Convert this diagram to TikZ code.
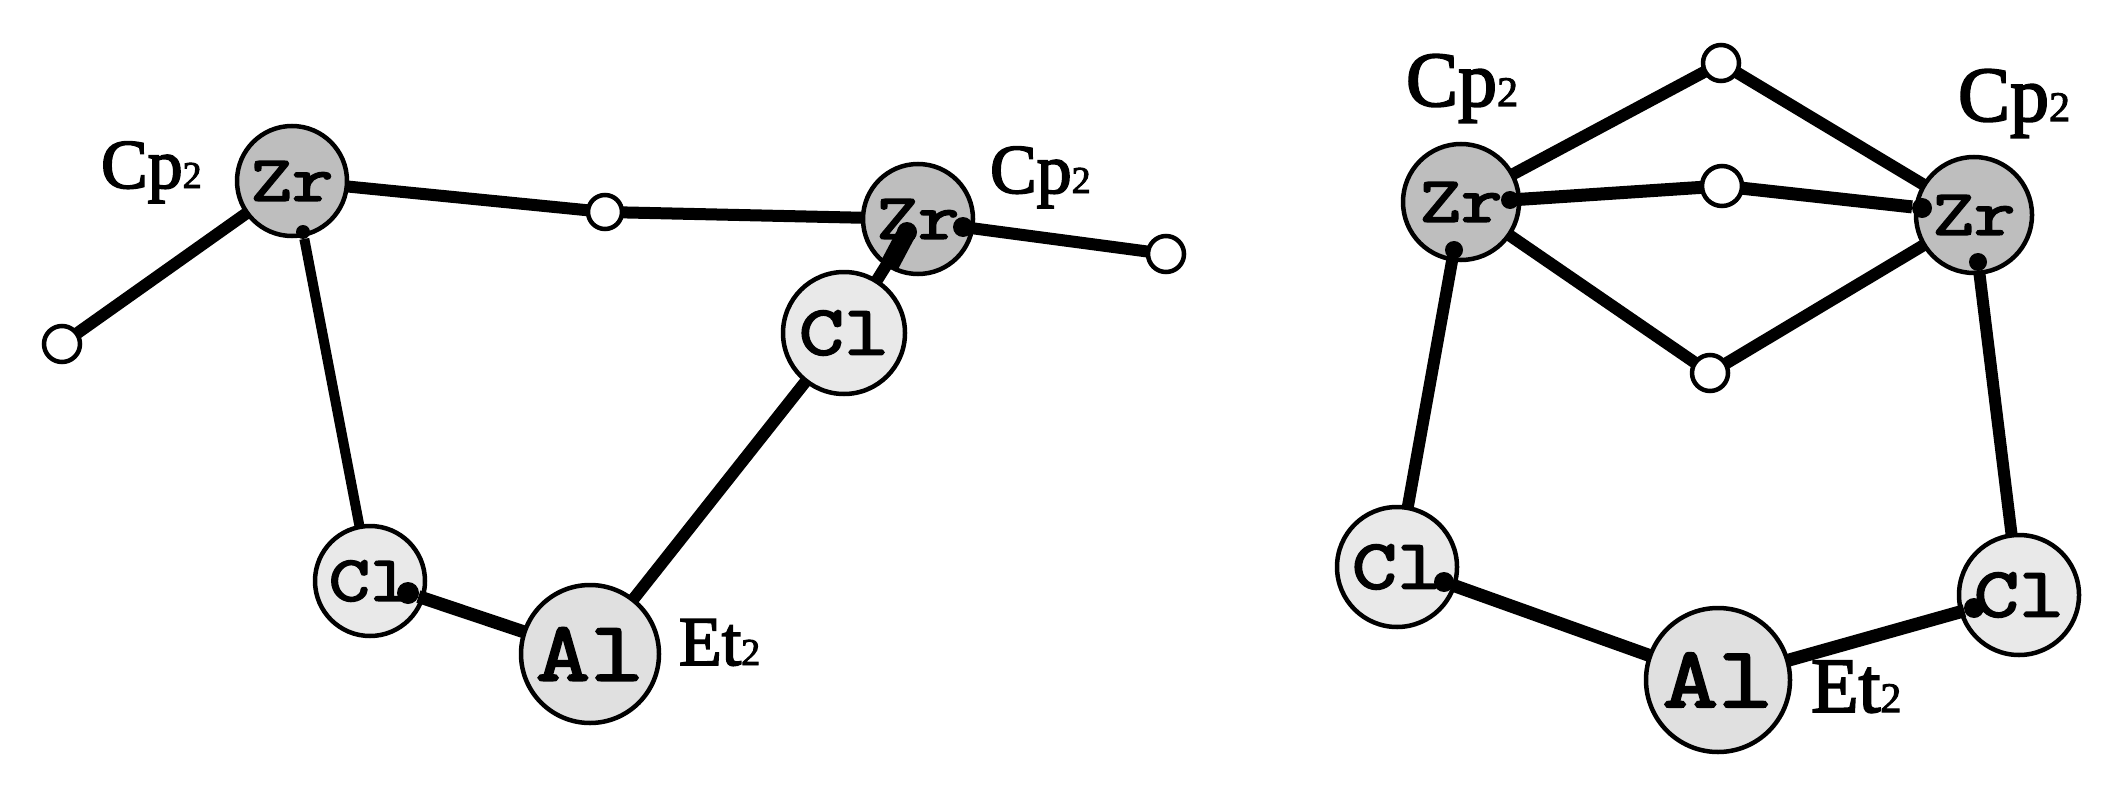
\documentclass[tikz,border=0pt]{standalone}
\usepackage{fontspec}
\setmainfont{Liberation Serif}
\newfontfamily\atomfont[FakeBold=3,FakeStretch=1.25]{Latin Modern Mono}
\newfontfamily\labfont[FakeBold=2.5]{Liberation Serif}
\newcommand{\fs}[1]{\fontsize{#1}{#1}\selectfont}
\newcommand{\lab}[2]{\labfont\fs{70}#1\fs{38}#2}
\newcommand{\labb}[2]{\labfont\fs{78}#1\fs{42}#2}
\tikzset{
  atom/.style={circle,draw=black,line width=4.5pt,inner sep=0pt,outer sep=0pt,font=\atomfont},
  zr/.style={atom,fill=zrgray,minimum size=#1},
  cl/.style={atom,fill=clgray,minimum size=#1},
  al/.style={atom,fill=algray,minimum size=#1},
  site/.style={circle,draw=black,fill=white,line width=4.5pt,inner sep=0pt,outer sep=0pt,minimum size=#1},
  dot/.style={circle,fill=black,inner sep=0pt,outer sep=0pt,minimum size=#1},
  bond/.style={draw=black,line width=#1},
  bond/.default=12pt,
  txt/.style={anchor=base west,inner sep=0pt,outer sep=0pt}
}
\definecolor{zrgray}{HTML}{BEBEBE}
\definecolor{clgray}{HTML}{E9E9E9}
\definecolor{algray}{HTML}{E0E0E0}
\begin{document}
\begin{tikzpicture}[x=1pt,y=-1pt]
\useasboundingbox (0,0) rectangle (2128,797);
% left structure
\node[zr=110pt] (zrA) at (292,181) {\fs{64}Zr};
\node[zr=110pt] (zrB) at (918,219) {\fs{64}Zr};
\node[cl=122pt] (clB) at (844,333) {\fs{70}Cl};
\node[cl=110pt] (clA) at (370,581) {\fs{64}Cl};
\node[al=138pt] (alA) at (590,654) {\fs{84}Al};
\node[site=36pt] (s1) at (62,344) {};
\node[site=34pt] (s2) at (605,212) {};
\node[site=36pt] (s3) at (1166,254) {};
\node[dot=14pt] (dA) at (303,232) {};
\node[dot=20pt] (dB) at (963,227) {};
\node[dot=20pt] (dC) at (907,232) {};
\node[dot=22pt] (dD) at (408,593) {};
\coordinate (wedge) at (889,266);
\draw[bond] (s1) -- (zrA);
\draw[bond] (zrA) -- (s2);
\draw[bond] (s2) -- (zrB);
\draw[bond] (dB) -- (s3);
\draw[bond=10pt] (dA) -- (clA);
\draw[bond=13pt] (dD) -- (alA);
\draw[bond] (clB) -- (alA);
\draw[bond] (dC) -- (clB);
\draw[bond=19pt] (dC.center) -- (wedge);
\node[txt] (lA) at (101,188) {\lab{Cp}{2}};
\node[txt] (lB) at (990,193) {\lab{Cp}{2}};
\node[txt] (lC) at (679,665) {\lab{Et}{2}};
% right structure
\node[zr=116pt] (zrC) at (1461,202) {\fs{64}Zr};
\node[zr=116pt] (zrD) at (1974,215) {\fs{64}Zr};
\node[cl=120pt] (clC) at (1397,567) {\fs{70}Cl};
\node[cl=120pt] (clD) at (2019,595) {\fs{70}Cl};
\node[al=144pt] (alB) at (1718,680) {\fs{86}Al};
\node[site=36pt] (t1) at (1721,63) {};
\node[site=40pt] (t2) at (1722,186) {};
\node[site=36pt] (t3) at (1710,373) {};
\node[dot=18pt] (eA) at (1510,200) {};
\node[dot=20pt] (eB) at (1922,208) {};
\node[dot=18pt] (eC) at (1454,250) {};
\node[dot=18pt] (eD) at (1978,262) {};
\node[dot=20pt] (eE) at (1444,582) {};
\node[dot=20pt] (eF) at (1974,608) {};
\draw[bond] (zrC) -- (t1);
\draw[bond] (t1) -- (zrD);
\draw[bond=13pt] (eA) -- (t2);
\draw[bond=13pt] (t2) -- (eB);
\draw[bond] (zrC) -- (t3);
\draw[bond] (t3) -- (zrD);
\draw[bond] (eC) -- (clC);
\draw[bond] (eD) -- (clD);
\draw[bond=13pt] (eE) -- (alB);
\draw[bond=13pt] (eF) -- (alB);
\node[txt] (lD) at (1406,106) {\labb{Cp}{2}};
\node[txt] (lE) at (1958,121) {\labb{Cp}{2}};
\node[txt] (lF) at (1811,712) {\labb{Et}{2}};
\end{tikzpicture}
\end{document}
